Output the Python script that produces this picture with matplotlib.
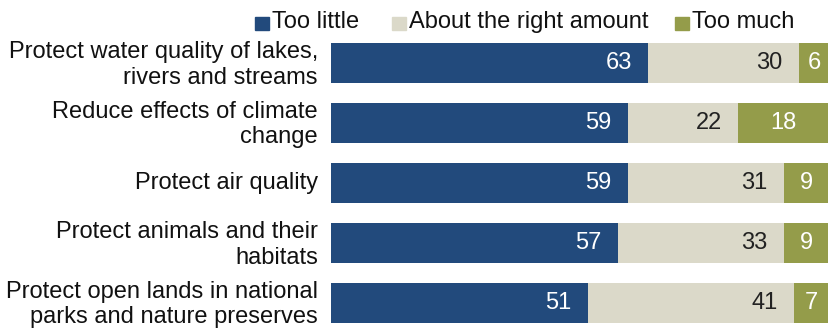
import matplotlib
matplotlib.use("Agg")
import matplotlib.pyplot as plt
from matplotlib.patches import Rectangle

categories = [
    "Protect water quality of lakes,\nrivers and streams",
    "Reduce effects of climate\nchange",
    "Protect air quality",
    "Protect animals and their\nhabitats",
    "Protect open lands in national\nparks and nature preserves",
]
too_little = [63, 59, 59, 57, 51]
about_right = [30, 22, 31, 33, 41]
too_much = [6, 18, 9, 9, 7]
series_names = ["Too little", "About the right amount", "Too much"]
colors = ["#224a7c", "#dbd9c9", "#949c4a"]
label_colors = ["white", "#222222", "white"]

plt.rcParams['font.family'] = ['Liberation Sans Narrow', 'Liberation Sans', 'DejaVu Sans']
FS = 17

fig = plt.figure(figsize=(8.29, 3.30), dpi=100)
ax = fig.add_axes([331/829, -3/330, 1 - 331/829, 300/330])

ys = list(range(len(categories)))
lefts = [0] * len(categories)
for s, vals in enumerate([too_little, about_right, too_much]):
    ax.barh(ys, vals, left=lefts, height=0.667, color=colors[s], edgecolor='none')
    for y, v, l in zip(ys, vals, lefts):
        if s < 2:
            ax.text(l + v - 3.2, y, str(v), ha='right', va='center',
                    color=label_colors[s], fontsize=FS)
        else:
            ax.text(l + v / 2, y, str(v), ha='center', va='center',
                    color=label_colors[s], fontsize=FS)
    lefts = [a + b for a, b in zip(lefts, vals)]

ax.set_xlim(0, 99)
ax.set_ylim(len(categories) - 0.5, -0.5)
ax.axis('off')

for y, c in zip(ys, categories):
    ax.text(-2.6, y + (0.03 if "\n" in c else 0), c, ha='right', va='center',
            fontsize=FS, linespacing=1.2, color='#111111')

# legend
leg_items = [(255, series_names[0]), (392, series_names[1]), (675, series_names[2])]
for (x, name), col in zip(leg_items, colors):
    fig.patches.append(Rectangle((x / 829, 1 - 30 / 330), 14 / 829, 13 / 330,
                                 transform=fig.transFigure, color=col))
    fig.text((x + 17) / 829, 1 - 22 / 330, name, ha='left', va='center',
             fontsize=FS, color='#111111')

fig.savefig("out.png", dpi=100)
